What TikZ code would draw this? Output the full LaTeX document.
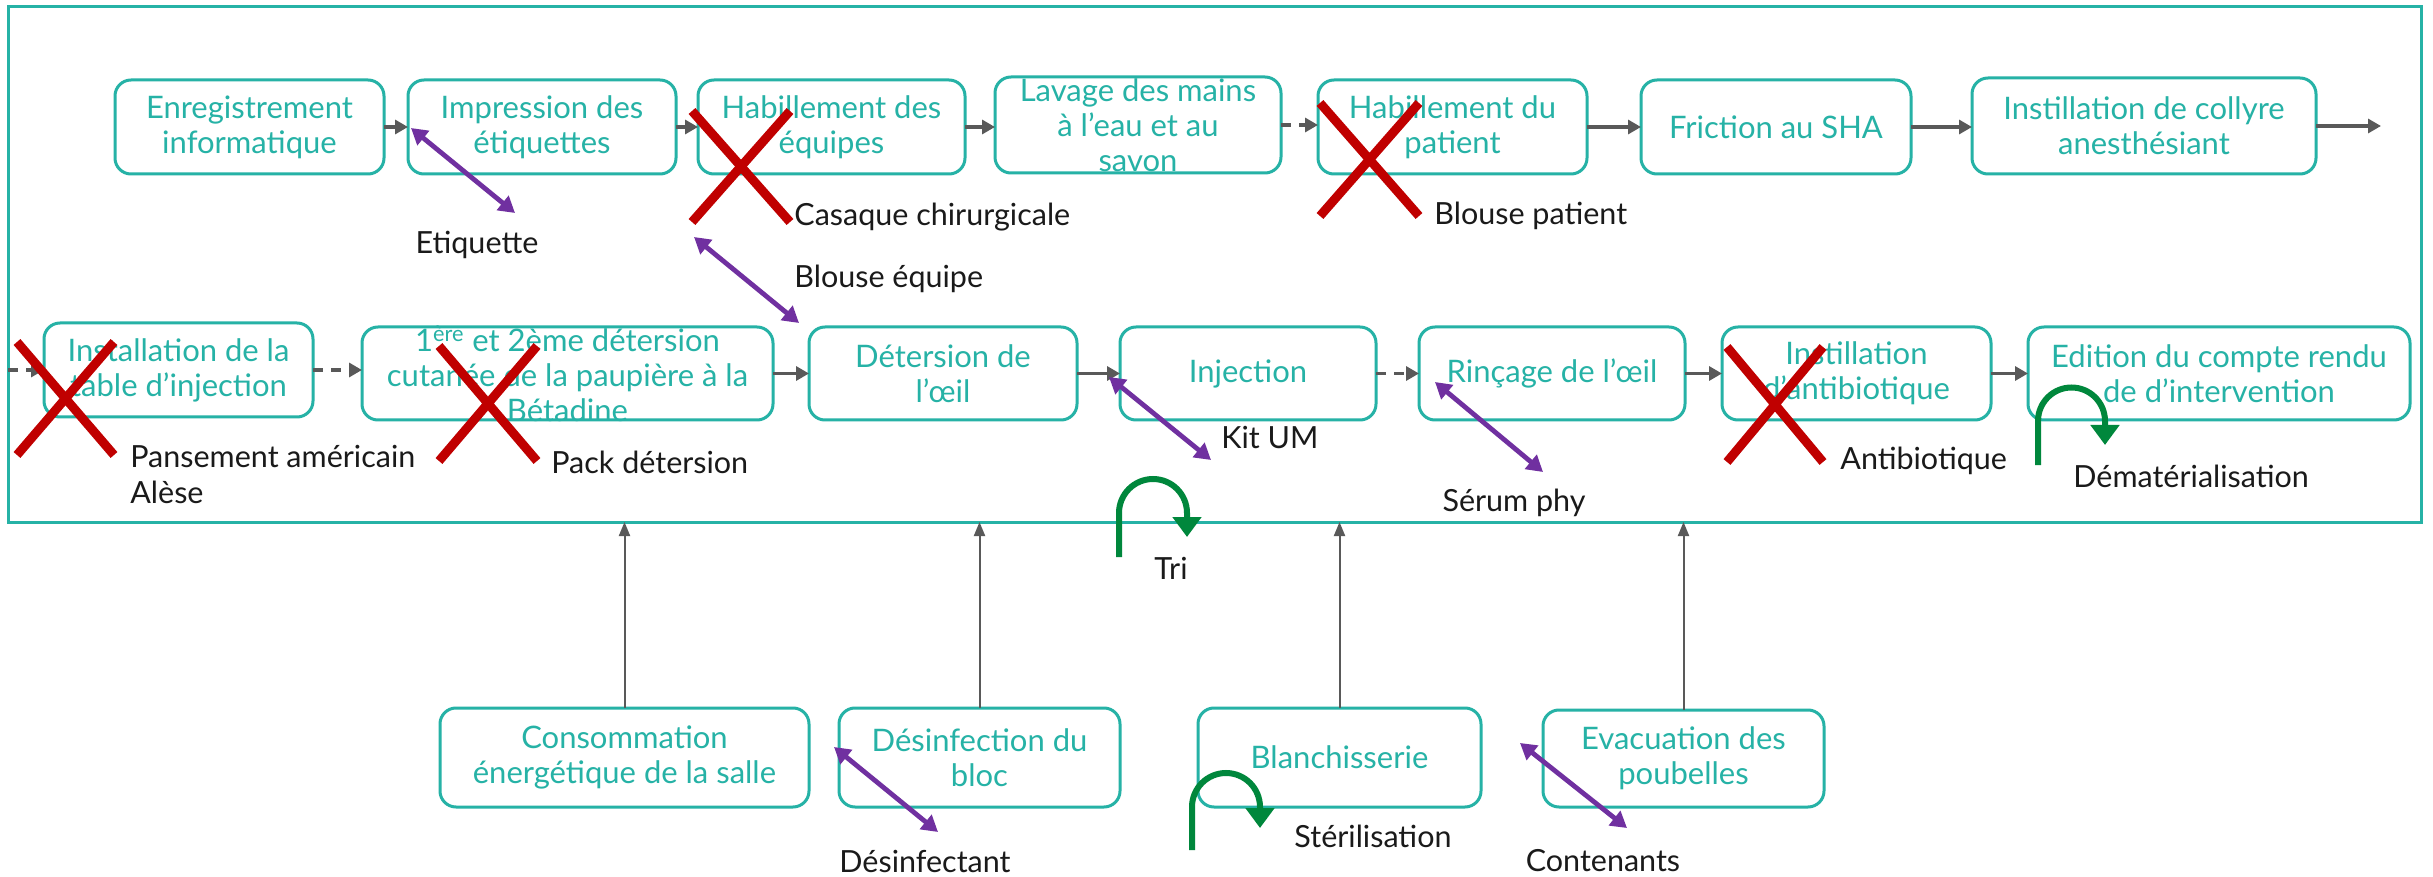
\documentclass[tikz,border=0pt]{standalone}
\usepackage{fontspec}
\setmainfont{Lato}
\usetikzlibrary{arrows.meta}
\definecolor{teal1}{RGB}{38,178,166}
\definecolor{garrow}{RGB}{89,89,89}
\definecolor{purp}{RGB}{112,48,160}
\definecolor{xred}{RGB}{192,0,0}
\definecolor{ugreen}{RGB}{0,135,60}
\definecolor{lbl}{RGB}{26,26,26}
\tikzset{
 box/.style args={#1/#2}{draw=teal1, line width=1.5pt, rounded corners=8pt, minimum width=#1, minimum height=#2, inner sep=0pt, outer sep=0pt},
 boxtext/.style={text=teal1, align=center, font=\fontsize{15.5pt}{17.5pt}\selectfont, inner sep=0pt},
 lab/.style={text=lbl, font=\fontsize{15.25pt}{18pt}\selectfont, inner sep=0pt, align=left},
 flow/.style={draw=garrow, line width=1.6pt, -{Triangle[length=6.5pt,width=7pt]}},
 flowd/.style={flow, dash pattern=on 5pt off 4pt},
 feed/.style={draw=garrow, line width=1pt, -{Triangle[length=7pt,width=5.5pt]}},
 link/.style={draw=purp, line width=2.4pt, {Triangle[length=8pt,width=9pt]}-{Triangle[length=8pt,width=9pt]}},
 cross/.style={draw=xred, line width=4.5pt},
 uturn/.style={draw=ugreen, line width=3pt, -{Triangle[length=10pt,width=14pt]}},
}
\begin{document}
\begin{tikzpicture}[x=0.5pt,y=-0.5pt]
\fill[white] (0,0) rectangle (2433,877);
\useasboundingbox (0,0) rectangle (2433,877);
% frame
\node[draw=teal1, line width=1.5pt, minimum width=1206.5pt, minimum height=257.5pt, inner sep=0pt, outer sep=0pt] (frame) at (1214.5,264.5) {};
% row 1
\node[box=134.5pt/47pt] (n1) at (249.5,127) {};
\node[box=134pt/47pt] (n2) at (542,127) {};
\node[box=133.5pt/47pt] (n3) at (831.5,127) {};
\node[box=143pt/48pt] (n4) at (1138,125) {};
\node[box=134.5pt/47pt] (n5) at (1452.5,127) {};
\node[box=135pt/47pt] (n6) at (1776,127) {};
\node[box=172pt/48pt] (n7) at (2144,126) {};
\node[boxtext] (n1t) at (n1) {Enregistrement\\informatique};
\node[boxtext] (n2t) at (n2) {Impression des\\étiquettes};
\node[boxtext] (n3t) at (n3) {Habillement des\\équipes};
\node[boxtext] (n4t) at (n4) {Lavage des mains\\à l’eau et au\\savon};
\node[boxtext] (n5t) at (n5) {Habillement du\\patient};
\node[boxtext] (n6t) at (n6) {Friction au SHA};
\node[boxtext] (n7t) at (n7) {Instillation de collyre\\anesthésiant};
% row 2
\node[box=134.5pt/47pt] (m1) at (178.5,370) {};
\node[box=205.5pt/46.5pt] (m2) at (567.5,373.5) {};
\node[box=134pt/46.5pt] (m3) at (943,373.5) {};
\node[box=128pt/46.5pt] (m4) at (1248,373.5) {};
\node[box=133pt/46.5pt] (m5) at (1552,373.5) {};
\node[box=134.5pt/46.5pt] (m6) at (1856.5,373.5) {};
\node[box=191pt/46.5pt] (m7) at (2219,373.5) {};
\node[boxtext] (m1t) at (m1) {Installation de la\\table d’injection};
\node[boxtext] (m2t) at (m2) {1\textsuperscript{ère} et 2ème détersion\\cutanée de la paupière à la\\Bétadine};
\node[boxtext] (m3t) at (m3) {Détersion de\\l’œil};
\node[boxtext] (m4t) at (m4) {Injection};
\node[boxtext] (m5t) at (m5) {Rinçage de l’œil};
\node[boxtext] (m6t) at (m6) {Instillation\\d’antibiotique};
\node[boxtext] (m7t) at (m7) {Edition du compte rendu\\de d’intervention};
% bottom row
\node[box=184.5pt/49.5pt] (b1) at (624.5,757.5) {};
\node[box=140.5pt/49.5pt] (b2) at (979.5,757.5) {};
\node[box=141.5pt/49.5pt] (b3) at (1339.5,757.5) {};
\node[box=140.5pt/48.5pt] (b4) at (1683.5,758.5) {};
\node[boxtext] (b1t) at (b1) {Consommation\\énergétique de la salle};
\node[boxtext] (b2t) at (b2) {Désinfection du\\bloc};
\node[boxtext] (b3t) at (b3) {Blanchisserie};
\node[boxtext] (b4t) at (b4) {Evacuation des\\poubelles};
% flow arrows row 1
\coordinate (out1) at (2381,126);
\draw[flow] (n1.east) -- (n1.east -| n2.west);
\draw[flow] (n2.east) -- (n2.east -| n3.west);
\draw[flow] (n3.east) -- (n3.east -| n4.west);
\draw[flowd] (n4.east) -- (n4.east -| n5.west);
\draw[flow] (n5.east) -- (n5.east -| n6.west);
\draw[flow] (n6.east) -- (n6.east -| n7.west);
\draw[flow] (n7.east) -- (out1);
% flow arrows row 2
\draw[flowd] (frame.west |- m1.west) -- (m1.west);
\draw[flowd] (m1.east) -- (m1.east -| m2.west);
\draw[flow] (m2.east) -- (m2.east -| m3.west);
\draw[flow] (m3.east) -- (m3.east -| m4.west);
\draw[flowd] (m4.east) -- (m4.east -| m5.west);
\draw[flow] (m5.east) -- (m5.east -| m6.west);
\draw[flow] (m6.east) -- (m6.east -| m7.west);
% feeding arrows
\draw[feed] (b1.north) -- (b1.north |- frame.south);
\draw[feed] (b2.north) -- (b2.north |- frame.south);
\draw[feed] (b3.north) -- (b3.north |- frame.south);
\draw[feed] (b4.north) -- (b4.north |- frame.south);
% labels
\node[lab] (lEtiq) at (477,245) {Etiquette};
\node[lab, anchor=west] (lCasaque) at (794,217) {Casaque chirurgicale};
\node[lab, anchor=west] (lBlouseE) at (794,279) {Blouse équipe};
\node[lab, anchor=west] (lBlouseP) at (1434,216) {Blouse patient};
\node[lab, anchor=west] (lPans) at (130,474) {Pansement américain\\Alèse};
\node[lab, anchor=west] (lPack) at (551,462) {Pack détersion};
\node[lab, anchor=west] (lKit) at (1221,438) {Kit UM};
\node[lab, anchor=west] (lAnti) at (1840,461) {Antibiotique};
\node[lab, anchor=west] (lDemat) at (2073,476) {Dématérialisation};
\node[lab] (lSerum) at (1514,503) {Sérum phy};
\node[lab] (lTri) at (1171,568) {Tri};
\node[lab] (lDesinf) at (925,861) {Désinfectant};
\node[lab] (lSteril) at (1373,836) {Stérilisation};
\node[lab] (lCont) at (1603,861) {Contenants};
% purple links
\coordinate (pEa) at (411,128); \coordinate (pEb) at (515,213);
\coordinate (pBa) at (694,237); \coordinate (pBb) at (799,323);
\coordinate (pKa) at (1109,377); \coordinate (pKb) at (1211,460);
\coordinate (pSa) at (1435,382); \coordinate (pSb) at (1543,472);
\coordinate (pDa) at (834,747); \coordinate (pDb) at (938,832);
\coordinate (pCa) at (1520,743); \coordinate (pCb) at (1627,828);
\draw[link] (pEa) -- (pEb);
\draw[link] (pBa) -- (pBb);
\draw[link] (pKa) -- (pKb);
\draw[link] (pSa) -- (pSb);
\draw[link] (pDa) -- (pDb);
\draw[link] (pCa) -- (pCb);
% red crosses
\draw[cross] (692,111) -- (790,222) (790,111) -- (692,222);
\draw[cross] (1320,103) -- (1419,216) (1419,103) -- (1320,216);
\draw[cross] (17,342) -- (114,455) (114,342) -- (17,455);
\draw[cross] (439,346) -- (537,461) (537,346) -- (439,461);
\draw[cross] (1727,347) -- (1823,462) (1823,347) -- (1727,462);
% green u-turns
\coordinate (gT) at (1119,557);
\coordinate (gD) at (2038,465);
\coordinate (gS) at (1192,850);
\draw[uturn] (gT) -- ++(0,-44) arc[start angle=180, end angle=360, radius=34] -- ++(0,24);
\draw[uturn] (gD) -- ++(0,-44) arc[start angle=180, end angle=360, radius=33.5] -- ++(0,24);
\draw[uturn] (gS) -- ++(0,-43) arc[start angle=180, end angle=360, radius=34] -- ++(0,21);
\end{tikzpicture}
\end{document}
